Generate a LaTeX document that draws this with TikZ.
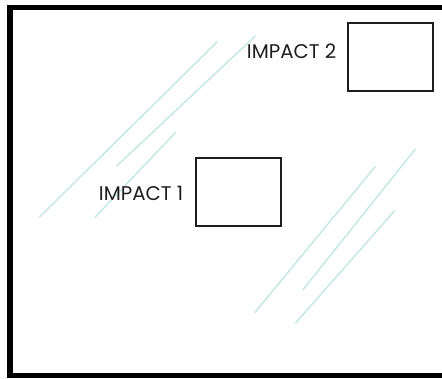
\documentclass[tikz,border=0pt]{standalone}
\usepackage{fontspec}
\setmainfont{Poppins}
\definecolor{crack}{RGB}{198,232,227}
\definecolor{ink}{RGB}{30,30,30}
\tikzset{
  frame/.style={draw=black, line width=5.5pt},
  impactbox/.style={draw=ink, line width=2.2pt, minimum width=85pt, minimum height=68pt, inner sep=0pt},
  label/.style={text=ink, font=\fontsize{19.8}{20}\selectfont, inner sep=0pt, anchor=base west},
  crackline/.style={draw=crack, line width=1.5pt}
}
\begin{document}
\begin{tikzpicture}[x=1pt,y=-1pt]
\useasboundingbox (0,0) rectangle (442,379);
\begin{scope}
\clip (0,0) rectangle (442,379);
\draw[frame] (10,7.5) rectangle (460,375.5);
\end{scope}
% cracks
\coordinate (c1a) at (39.3,217.3); \coordinate (c1b) at (217.3,41.7);
\coordinate (c2a) at (116.7,166); \coordinate (c2b) at (255.3,36);
\coordinate (c3a) at (95,217.3); \coordinate (c3b) at (175.7,132.3);
\coordinate (c4a) at (254.7,312.7); \coordinate (c4b) at (375.7,166);
\coordinate (c5a) at (302.7,290); \coordinate (c5b) at (415.3,149);
\coordinate (c6a) at (295.3,323.3); \coordinate (c6b) at (394.7,210.7);
\draw[crackline] (c1a) -- (c1b);
\draw[crackline] (c2a) -- (c2b);
\draw[crackline] (c3a) -- (c3b);
\draw[crackline] (c4a) -- (c4b);
\draw[crackline] (c5a) -- (c5b);
\draw[crackline] (c6a) -- (c6b);
% boxes
\node[impactbox] (box1) at (238.3,191.9) {};
\node[impactbox] (box2) at (390.5,56.7) {};
% labels
\node[label] (lab1) at (98.7,201) {IMPACT 1};
\node[label] (lab2) at (246.7,59) {IMPACT 2};
\end{tikzpicture}
\end{document}
